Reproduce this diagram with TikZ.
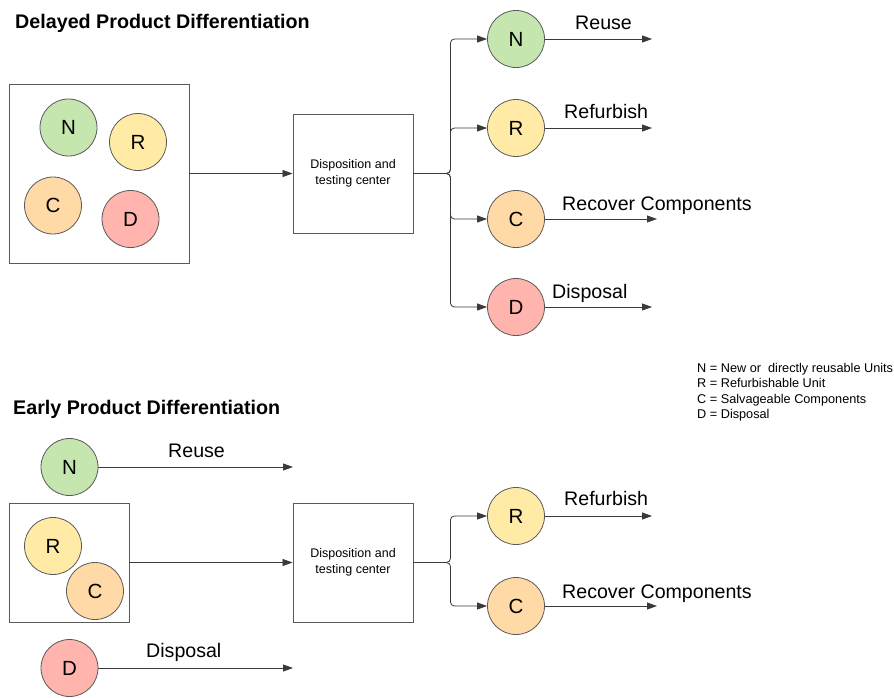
\documentclass[tikz,border=0pt]{standalone}
\usepackage{fontspec}
\setmainfont{Liberation Sans}
\usetikzlibrary{arrows.meta}

\definecolor{lineC}{HTML}{3A3A3A}
\definecolor{rimC}{HTML}{5A5A5A}
\definecolor{fillN}{HTML}{C6E6B0}
\definecolor{fillR}{HTML}{FFEBA6}
\definecolor{fillC}{HTML}{FFD9A6}
\definecolor{fillD}{HTML}{FFB5AD}

\tikzset{
  unit/.style={circle, draw=rimC, line width=0.8pt, minimum size=57pt, inner sep=0pt,
    font=\fontsize{20.5}{22}\selectfont},
  unitN/.style={unit, fill=fillN},
  unitR/.style={unit, fill=fillR},
  unitC/.style={unit, fill=fillC},
  unitD/.style={unit, fill=fillD},
  frame/.style={draw=rimC, line width=0.9pt, inner sep=0pt},
  center/.style={frame, minimum width=120pt, minimum height=119pt, align=center,
    font=\fontsize{12.5}{16.5}\selectfont},
  flow/.style={draw=lineC, line width=0.8pt, -{Triangle[length=10pt,width=7pt]}},
  branch/.style={flow, rounded corners=4pt},
  tag/.style={anchor=base west, inner sep=0pt, font=\fontsize{19.6}{21}\selectfont},
  heading/.style={anchor=base west, inner sep=0pt, font=\bfseries\fontsize{19.7}{22}\selectfont},
}

\begin{document}
\begin{tikzpicture}[x=1pt, y=-1pt]
\useasboundingbox[fill=white] (0,0) rectangle (894,697);

% ---------- Delayed product differentiation ----------
\node[heading] (title1) at (15,28) {Delayed Product Differentiation};

\node[frame, minimum width=180pt, minimum height=179pt] (mix1) at (99,173.5) {};
\node[unitN] (mN) at (68.5,127.5) {N};
\node[unitR] (mR) at (138,142) {R};
\node[unitC] (mC) at (53,205.5) {C};
\node[unitD] (mD) at (130.5,219) {D};

\node[center] (test1) at (353,173.5) {Disposition and\\testing center};
\draw[flow] (mix1.east) -- (test1.west);

\node[unitN] (aN) at (516,39) {N};
\node[unitR] (aR) at (516,128) {R};
\node[unitC] (aC) at (516,219) {C};
\node[unitD] (aD) at (516,307) {D};

\foreach \n in {aN,aR,aC,aD}
  \draw[branch] (test1.east) -- ++(37,0) |- (\n.west);

\coordinate (eN) at (652,39);
\coordinate (eR) at (652,128);
\coordinate (eC) at (657,219);
\coordinate (eD) at (652,307);
\draw[flow] (aN.east) -- (eN);
\draw[flow] (aR.east) -- (eR);
\draw[flow] (aC.east) -- (eC);
\draw[flow] (aD.east) -- (eD);

\node[tag] (lN) at (575,29) {Reuse};
\node[tag] (lR) at (564,118) {Refurbish};
\node[tag] (lC) at (562,210.5) {Recover Components};
\node[tag] (lD) at (552,298) {Disposal};

% ---------- legend ----------
\node[anchor=north west, inner sep=0pt, align=left,
      font=\fontsize{12.7}{15.5}\selectfont] (key) at (697,363)
  {N = New or\ \ directly reusable Units\\
   R = Refurbishable Unit\\
   C = Salvageable Components\\
   D = Disposal};

% ---------- Early product differentiation ----------
\node[heading] (title2) at (13,414) {Early Product Differentiation};

\node[unitN] (bN) at (69.5,467) {N};
\coordinate (fN) at (293,467);
\draw[flow] (bN.east) -- (fN);
\node[tag] (mReuse) at (168,457) {Reuse};

\node[frame, minimum width=120pt, minimum height=119pt] (mix2) at (69,562.5) {};
\node[unitR] (bR) at (53,546) {R};
\node[unitC] (bC) at (95,591) {C};

\node[center] (test2) at (353,562.5) {Disposition and\\testing center};
\draw[flow] (mix2.east) -- (test2.west);

\node[unitD] (bD) at (69.5,668) {D};
\coordinate (fD) at (293,668);
\draw[flow] (bD.east) -- (fD);
\node[tag] (mDisp) at (146,657) {Disposal};

\node[unitR] (cR) at (516,516) {R};
\node[unitC] (cC) at (516,606) {C};
\foreach \n in {cR,cC}
  \draw[branch] (test2.east) -- ++(37,0) |- (\n.west);

\coordinate (gR) at (652,516);
\coordinate (gC) at (657,606);
\draw[flow] (cR.east) -- (gR);
\draw[flow] (cC.east) -- (gC);

\node[tag] (kR) at (564,505) {Refurbish};
\node[tag] (kC) at (562,598) {Recover Components};
\end{tikzpicture}
\end{document}
